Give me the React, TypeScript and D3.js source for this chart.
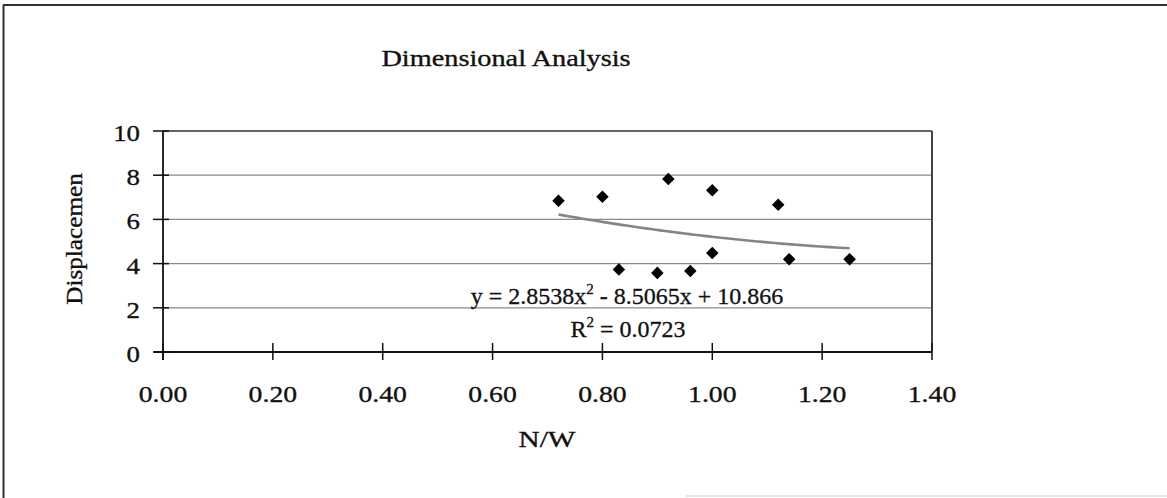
import React from "react";
import * as d3 from "d3";

// Measurements: N/W ratio against displacement
const nwRatio = [0.72, 0.8, 0.92, 1.0, 1.12, 0.83, 0.9, 0.96, 1.0, 1.14, 1.25];
const displacement = [6.84, 7.02, 7.83, 7.32, 6.66, 3.73, 3.58, 3.67, 4.48, 4.2, 4.2];

// Polynomial (order 2) trendline coefficients and fit quality
const trendCoeffs = [2.8538, -8.5065, 10.866];
const rSquared = "0.0723";

const xTicks = [0, 0.2, 0.4, 0.6, 0.8, 1.0, 1.2, 1.4];
const yTicks = [0, 2, 4, 6, 8, 10];

const title = "Dimensional Analysis";
const xLabel = "N/W";
const yLabel = "Displacemen";

const W = 1167;
const H = 498;
const FONT = "'Liberation Serif', 'Times New Roman', serif";
const INK = "#111";

// Text drawn with a slight horizontal stretch, as the chart's wide serif lettering
function WideText(props: {
  x: number;
  y: number;
  size: number;
  sx?: number;
  anchor?: string;
  children: React.ReactNode;
}) {
  const { x, y, size, sx = 1.18, anchor = "middle", children } = props;
  return (
    <text
      transform={`translate(${x},${y}) scale(${sx},1)`}
      textAnchor={anchor}
      fontSize={size}
      fill={INK}
      stroke={INK}
      strokeWidth={0.35}
    >
      {children}
    </text>
  );
}

export default function App() {
  const x = d3.scaleLinear().domain([0, 1.4]).range([163, 932]);
  const y = d3.scaleLinear().domain([0, 10]).range([352, 131]);

  const [a, b, c] = trendCoeffs;
  const xMin = d3.min(nwRatio) as number;
  const xMax = d3.max(nwRatio) as number;
  const trendPts = d3.range(0, 61).map((i) => {
    const xv = xMin + ((xMax - xMin) * i) / 60;
    return [xv, a * xv * xv + b * xv + c] as [number, number];
  });
  const trendPath = d3
    .line<[number, number]>()
    .x((d) => x(d[0]))
    .y((d) => y(d[1]))(trendPts) as string;

  const diamond = d3.symbol().type(d3.symbolDiamond2).size(100)() as string;

  const [x0, x1] = x.range();
  const [y0, y1] = y.range();

  return (
    <svg
      width={W}
      height={H}
      style={{ position: "absolute", left: 0, top: 0, background: "#fff" }}
      fontFamily={FONT}
    >
      {/* frame of the chart sheet */}
      <line x1={3.5} y1={5} x2={3.5} y2={H} stroke="#333" strokeWidth={2} />
      <line x1={3} y1={5} x2={W} y2={5} stroke="#333" strokeWidth={2} />
      <line x1={686} y1={496} x2={W} y2={496} stroke="#ddd" strokeWidth={1.5} />

      <WideText x={506} y={66} size={24}>
        {title}
      </WideText>

      {/* horizontal gridlines */}
      {yTicks.filter((t) => t > 0).map((t) => (
        <line key={"g" + t} x1={x0} x2={x1} y1={y(t)} y2={y(t)} stroke="#8a8a8a" strokeWidth={1.2} />
      ))}

      {/* plot area border (top/right) */}
      <line x1={x0} x2={x1} y1={y1} y2={y1} stroke="#444" strokeWidth={1.5} />
      <line x1={x1} x2={x1} y1={y1} y2={y0} stroke="#444" strokeWidth={2} />

      {/* axes */}
      <line x1={x0} x2={x0} y1={y1} y2={y0 + 8} stroke={INK} strokeWidth={1.8} />
      <line x1={x0 - 9} x2={x1} y1={y0} y2={y0} stroke={INK} strokeWidth={1.8} />

      {yTicks.map((t) => (
        <g key={"yt" + t}>
          <line x1={x0 - 10} x2={x0 + 6} y1={y(t)} y2={y(t)} stroke={INK} strokeWidth={1.5} />
          <WideText x={140} y={y(t) + 10} size={24} sx={1.12} anchor="end">
            {t}
          </WideText>
        </g>
      ))}

      {xTicks.map((t) => (
        <g key={"xt" + t}>
          <line x1={x(t)} x2={x(t)} y1={y0 - 9} y2={y0 + 8} stroke={INK} strokeWidth={1.5} />
          <WideText x={x(t)} y={402} size={23.5}>
            {d3.format(".2f")(t)}
          </WideText>
        </g>
      ))}

      <WideText x={547} y={447} size={24} sx={1.22}>
        {xLabel}
      </WideText>
      <text
        transform="translate(82,239) rotate(-90) scale(1.05,1)"
        textAnchor="middle"
        fontSize={24}
        fill={INK}
        stroke={INK}
        strokeWidth={0.35}
      >
        {yLabel}
      </text>

      {/* trendline */}
      <path d={trendPath} fill="none" stroke="#858585" strokeWidth={2.6} />

      {/* data markers */}
      {nwRatio.map((v, i) => (
        <path
          key={"p" + i}
          d={diamond}
          transform={`translate(${x(v)},${y(displacement[i])})`}
          fill="#000"
        />
      ))}

      {/* trendline equation and R² */}
      <text x={627} y={304} textAnchor="middle" fontSize={24} fill={INK} stroke={INK} strokeWidth={0.3}>
        <tspan>y = {a}x</tspan>
        <tspan fontSize={15} dy={-10}>2</tspan>
        <tspan dy={10}> - {Math.abs(b)}x + {c}</tspan>
      </text>
      <text x={628} y={337} textAnchor="middle" fontSize={24} fill={INK} stroke={INK} strokeWidth={0.3}>
        <tspan>R</tspan>
        <tspan fontSize={15} dy={-10}>2</tspan>
        <tspan dy={10}> = {rSquared}</tspan>
      </text>
    </svg>
  );
}
